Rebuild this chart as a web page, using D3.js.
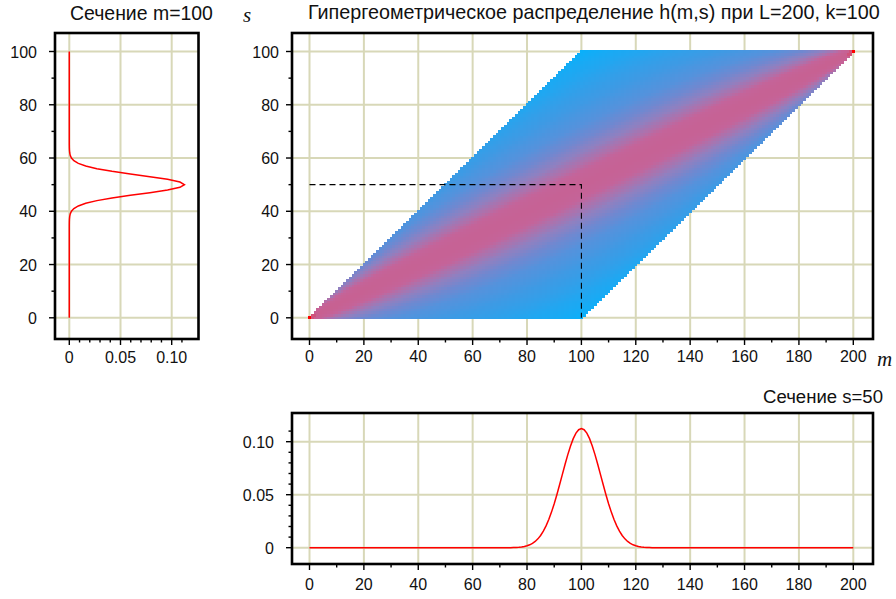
<!DOCTYPE html>
<html><head><meta charset="utf-8">
<script src="https://cdn.jsdelivr.net/npm/d3@7"></script>
<style>
body{margin:0;background:#fff;}
svg{display:block;font-family:"Liberation Sans",Arial,sans-serif;}
</style></head><body>
<svg id="c" width="896" height="599"></svg>
<script>
// ---- data ----
const popL = 200;          // L
const popK = 100;          // k
const mTicks = [0, 20, 40, 60, 80, 100, 120, 140, 160, 180, 200];
const mMinor = [10, 30, 50, 70, 90, 110, 130, 150, 170, 190];
const sTicks = [0, 20, 40, 60, 80, 100];
const sMinor = [10, 30, 50, 70, 90];
const hTicks = [0, 0.05, 0.10];
const hTickLabels = ["0", "0.05", "0.10"];
const hMinorLeft = [0.01, 0.02, 0.03, 0.04, 0.06, 0.07, 0.08, 0.09, 0.11];
const hMinorBottom = [0.01, 0.02, 0.03, 0.04, 0.06, 0.07, 0.08, 0.09, 0.11];
const cutM = 100;   // section m=100
const cutS = 50;    // section s=50
// section m=100 : h(100, s)
const secM_s = [0, 34, 35, 36, 37, 38, 39, 40, 41, 42, 43, 44, 45, 46, 47, 48, 49, 50,
  51, 52, 53, 54, 55, 56, 57, 58, 59, 60, 61, 62, 63, 64, 65, 66, 100];
const secM_h = [0, 0, 0.00001, 0.00004, 0.00013, 0.00036, 0.00090, 0.00209, 0.00447, 0.00882,
  0.01604, 0.02693, 0.04170, 0.05961, 0.07869, 0.09594, 0.10805, 0.11241,
  0.10805, 0.09594, 0.07869, 0.05961, 0.04170, 0.02693, 0.01604, 0.00882,
  0.00447, 0.00209, 0.00090, 0.00036, 0.00013, 0.00004, 0.00001, 0, 0];
// section s=50 : h(m, 50)
const secS_m = [0, 73, 74, 75, 76, 77, 78, 79, 80, 81, 82, 83, 84, 85, 86, 87, 88, 89, 90, 91, 92, 93, 94, 95, 96, 97, 98, 99, 100,
  101, 102, 103, 104, 105, 106, 107, 108, 109, 110, 111, 112, 113, 114, 115, 116, 117, 118, 119, 120, 121, 122, 123, 124, 125, 126, 127, 200];
const secS_h = [0, 0, 0.00006, 0.00012, 0.00022, 0.00039, 0.00067, 0.00111, 0.00180, 0.00274, 0.00408, 0.00590, 0.00835,
  0.01154, 0.01559, 0.02058, 0.02656, 0.03356, 0.04149, 0.05023, 0.05956, 0.06918, 0.07873, 0.08781, 0.09599,
  0.10286, 0.10806, 0.11131, 0.11241,
  0.11131, 0.10806, 0.10286, 0.09599, 0.08781, 0.07873, 0.06918, 0.05956, 0.05023, 0.04149, 0.03356, 0.02656,
  0.02058, 0.01559, 0.01154, 0.00835, 0.00590, 0.00408, 0.00274, 0.00180, 0.00111, 0.00067, 0.00039, 0.00022,
  0.00012, 0.00006, 0, 0];
// colour legend of the map (log10 h -> colour)
const colorLogStops = [-59, -35, -18, -10, -6, -3.5, -2, -1.4, -0.35, 0];
const colorStops = ["#0ab0fa", "#22a6f0", "#3e9ae4", "#5592dc", "#7088d0", "#9080c0", "#b070aa", "#c4649a", "#c8608f", "#ff0000"];

// ---- heatmap cells: hypergeometric pmf h(m,s) = C(k,s) C(L-k,m-s) / C(L,m) ----
const lf = [0];
for (let i = 1; i <= popL; i++) lf[i] = lf[i - 1] + Math.log(i);
const lnC = (n, r) => lf[n] - lf[r] - lf[n - r];
const cells = [];
for (let m = 0; m <= popL; m++) {
  for (let s = Math.max(0, m - (popL - popK)); s <= Math.min(popK, m); s++) {
    const lh = lnC(popK, s) + lnC(popL - popK, m - s) - lnC(popL, m);
    cells.push({ m, s, lg: lh / Math.LN10 });
  }
}

const svg = d3.select("#c");
const gridCol = "#d8d8b8";

// scales
const xM = d3.scaleLinear().domain([0, 200]).range([309.5, 853.3]);
const yS = d3.scaleLinear().domain([0, 100]).range([317.8, 51.5]);
const xH = d3.scaleLinear().domain([0, 0.1]).range([69.3, 171.7]);
const yH = d3.scaleLinear().domain([0, 0.1]).range([547.7, 441.7]);

const boxMain = { x0: 292, x1: 873, y0: 33, y1: 339 };
const boxLeft = { x0: 55, x1: 198.5, y0: 33, y1: 339 };
const boxBot = { x0: 292, x1: 873, y0: 413, y1: 564 };

function grid(box, xs, xv, ys, yv) {
  const g = svg.append("g").attr("stroke", gridCol).attr("stroke-width", 2);
  g.selectAll(".gx").data(xv).join("line")
    .attr("x1", d => xs(d)).attr("x2", d => xs(d)).attr("y1", box.y0).attr("y2", box.y1);
  g.selectAll(".gy").data(yv).join("line")
    .attr("y1", d => ys(d)).attr("y2", d => ys(d)).attr("x1", box.x0).attr("x2", box.x1);
}
function frame(box) {
  svg.append("rect").attr("x", box.x0).attr("y", box.y0)
    .attr("width", box.x1 - box.x0).attr("height", box.y1 - box.y0)
    .attr("fill", "none").attr("stroke", "#000").attr("stroke-width", 2.6);
}
function xAxis(box, xs, major, labels, minor, labelY) {
  const g = svg.append("g");
  g.selectAll(".t").data(major).join("line")
    .attr("x1", d => xs(d)).attr("x2", d => xs(d)).attr("y1", box.y1).attr("y2", box.y1 + 6)
    .attr("stroke", "#000").attr("stroke-width", 1.4);
  g.selectAll(".mt").data(minor).join("line")
    .attr("x1", d => xs(d)).attr("x2", d => xs(d)).attr("y1", box.y1).attr("y2", box.y1 + 3.5)
    .attr("stroke", "#000").attr("stroke-width", 1.4);
  g.selectAll("text").data(major).join("text")
    .attr("x", d => xs(d)).attr("y", labelY).attr("text-anchor", "middle")
    .attr("font-size", 16).attr("fill", "#111")
    .text((d, i) => labels[i]);
}
function yAxis(box, ys, major, labels, minor, labelX) {
  const g = svg.append("g");
  g.selectAll(".t").data(major).join("line")
    .attr("y1", d => ys(d)).attr("y2", d => ys(d)).attr("x1", box.x0 - 6).attr("x2", box.x0)
    .attr("stroke", "#000").attr("stroke-width", 1.4);
  g.selectAll(".mt").data(minor).join("line")
    .attr("y1", d => ys(d)).attr("y2", d => ys(d)).attr("x1", box.x0 - 3.5).attr("x2", box.x0)
    .attr("stroke", "#000").attr("stroke-width", 1.4);
  g.selectAll("text").data(major).join("text")
    .attr("x", labelX).attr("y", d => ys(d) + 6).attr("text-anchor", "end")
    .attr("font-size", 16).attr("fill", "#111")
    .text((d, i) => labels[i]);
}

// ---------- main heatmap panel ----------
grid(boxMain, xM, mTicks, yS, sTicks);
const color = d3.scaleLinear().domain(colorLogStops).range(colorStops).clamp(true);
svg.append("g").attr("shape-rendering", "crispEdges")
  .selectAll("rect").data(cells).join("rect")
  .attr("x", d => xM(d.m - 0.5)).attr("width", xM(1) - xM(0) + 0.3)
  .attr("y", d => yS(d.s + 0.5)).attr("height", yS(0) - yS(1) + 0.3)
  .attr("fill", d => color(d.lg));
// dashed guide lines
svg.append("path")
  .attr("d", `M${xM(0)},${yS(cutS)}H${xM(cutM)}V${yS(0)}`)
  .attr("fill", "none").attr("stroke", "#000").attr("stroke-width", 1.1)
  .attr("stroke-dasharray", "6,4");
frame(boxMain);
xAxis(boxMain, xM, mTicks, mTicks.map(String), mMinor, 362);
yAxis(boxMain, yS, sTicks, sTicks.map(String), sMinor, 279);

// ---------- left section panel (m = 100) ----------
grid(boxLeft, xH, hTicks, yS, sTicks);
svg.append("path")
  .attr("d", d3.line().x((d, i) => xH(secM_h[i])).y(d => yS(d))(secM_s))
  .attr("fill", "none").attr("stroke", "#ff0000").attr("stroke-width", 1.5);
frame(boxLeft);
xAxis(boxLeft, xH, hTicks, hTickLabels, hMinorLeft, 363);
yAxis(boxLeft, yS, sTicks, sTicks.map(String), sMinor, 37);

// ---------- bottom section panel (s = 50) ----------
grid(boxBot, xM, mTicks, yH, hTicks);
svg.append("path")
  .attr("d", d3.line().x(d => xM(d)).y((d, i) => yH(secS_h[i]))(secS_m))
  .attr("fill", "none").attr("stroke", "#ff0000").attr("stroke-width", 1.5);
frame(boxBot);
xAxis(boxBot, xM, mTicks, mTicks.map(String), mMinor, 590);
yAxis(boxBot, yH, hTicks, hTickLabels, hMinorBottom, 274);

// ---------- titles (font size fitted to the reference widths) ----------
function fitText(x, y, anchor, txt, width) {
  const t = svg.append("text").attr("x", x).attr("y", y).attr("text-anchor", anchor)
    .attr("font-size", 20).attr("fill", "#111").text(txt);
  const w = t.node().getComputedTextLength();
  t.attr("font-size", (20 * width / w).toFixed(2));
  return t;
}
fitText(70, 20, "start", "Сечение m=100", 143);
fitText(308, 19, "start", "Гипергеометрическое распределение h(m,s) при L=200, k=100", 572);
fitText(883, 403, "end", "Сечение s=50", 120);
svg.append("text").attr("x", 243).attr("y", 22).attr("font-size", 21).attr("font-style", "italic")
  .attr("font-family", "'Liberation Serif','Times New Roman',serif").attr("fill", "#111").text("s");
svg.append("text").attr("x", 877).attr("y", 366).attr("font-size", 21).attr("font-style", "italic")
  .attr("font-family", "'Liberation Serif','Times New Roman',serif").attr("fill", "#111").text("m");
</script>
</body></html>
